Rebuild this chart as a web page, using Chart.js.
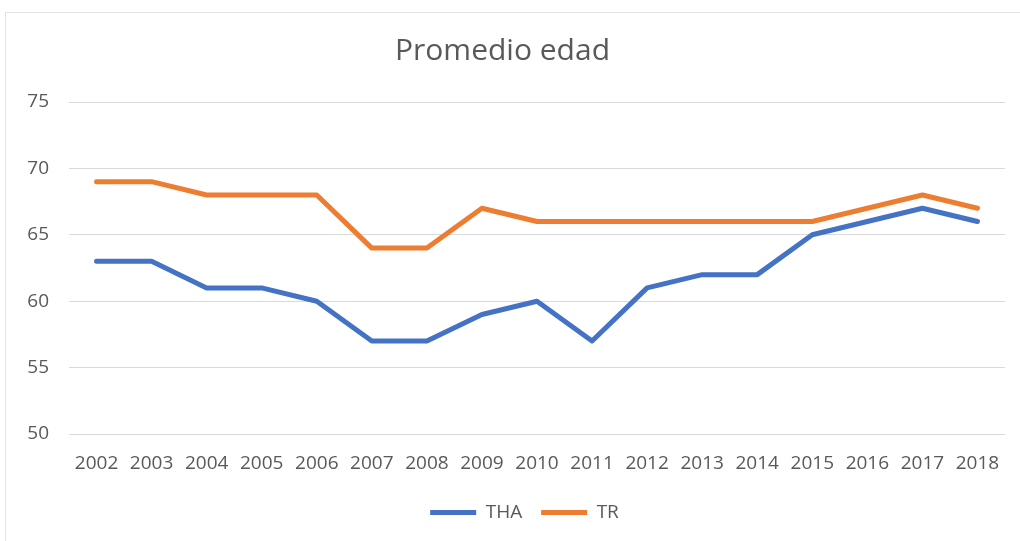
<!DOCTYPE html>
<html>
<head>
<meta charset="utf-8">
<script src="https://cdn.jsdelivr.net/npm/chart.js@4.4.1/dist/chart.umd.min.js"></script>
<style>
  html, body { margin: 0; padding: 0; background: #fff; overflow: hidden; }
  #wrap { position: relative; width: 1020px; height: 541px; }
  #frame { position: absolute; left: 5px; top: 12px; width: 1040px; height: 560px; border: 1px solid #e3e3e3; }
  canvas { position: absolute; left: 0; top: 0; }
</style>
</head>
<body>
<div id="wrap">
  <div id="frame"></div>
  <canvas id="chart" width="1020" height="541"></canvas>
</div>
<script>
  // datos
  const years = ['2002', '2003', '2004', '2005', '2006', '2007', '2008', '2009', '2010',
                 '2011', '2012', '2013', '2014', '2015', '2016', '2017', '2018'];
  const tha = [63, 63, 61, 61, 60, 57, 57, 59, 60, 57, 61, 62, 62, 65, 66, 67, 66];
  const tr  = [69, 69, 68, 68, 68, 64, 64, 67, 66, 66, 66, 66, 66, 66, 67, 68, 67];
  const yTicks = [50, 55, 60, 65, 70, 75];

  const textColor = '#595959';
  const fontFamily = "'Open Sans', 'Noto Sans', sans-serif";

  // la leyenda del original queda algo a la derecha del centro
  const legendShift = {
    id: 'legendShift',
    afterLayout(chart) {
      chart.legend.left += 22;
      chart.legend.right += 22;
    }
  };

  document.addEventListener('DOMContentLoaded', () => {
    const ctx = document.getElementById('chart').getContext('2d');
    new Chart(ctx, {
      type: 'line',
      data: {
        labels: years,
        datasets: [
          { label: 'THA', data: tha, borderColor: '#4472C4', backgroundColor: '#4472C4' },
          { label: 'TR', data: tr, borderColor: '#ED7D31', backgroundColor: '#ED7D31' }
        ]
      },
      options: {
        responsive: false,
        animation: false,
        layout: { padding: { left: 0, right: 15, top: 0, bottom: 9 } },
        elements: {
          line: { borderWidth: 5, tension: 0, borderJoinStyle: 'round', borderCapStyle: 'round' },
          point: { radius: 0, hoverRadius: 0 }
        },
        scales: {
          x: {
            offset: true,
            grid: { display: false },
            border: { display: false },
            ticks: { color: textColor, font: { family: fontFamily, size: 19 }, padding: 10, maxRotation: 0 },
            afterFit: s => { s.height = 50; }
          },
          y: {
            min: 50,
            max: 75,
            afterBuildTicks: s => { s.ticks = yTicks.map(v => ({ value: v })); },
            grid: { color: '#d9d9d9', lineWidth: 1, drawTicks: false },
            border: { display: false },
            ticks: { color: textColor, font: { family: fontFamily, size: 19 }, padding: 20 },
            afterFit: s => { s.width = 69; }
          }
        },
        plugins: {
          title: {
            display: true,
            text: 'Promedio edad',
            color: textColor,
            font: { family: fontFamily, size: 30, weight: 'normal' },
            padding: { top: 33, bottom: 33 }
          },
          legend: {
            position: 'bottom',
            labels: {
              color: textColor,
              font: { family: fontFamily, size: 19 },
              boxWidth: 46,
              boxHeight: 5,
              padding: 19,
              generateLabels: chart => Chart.defaults.plugins.legend.labels.generateLabels(chart)
                .map(item => Object.assign(item, { lineWidth: 0 }))
            }
          },
          tooltip: { enabled: false }
        }
      },
      plugins: [legendShift]
    });
  });
</script>
</body>
</html>
